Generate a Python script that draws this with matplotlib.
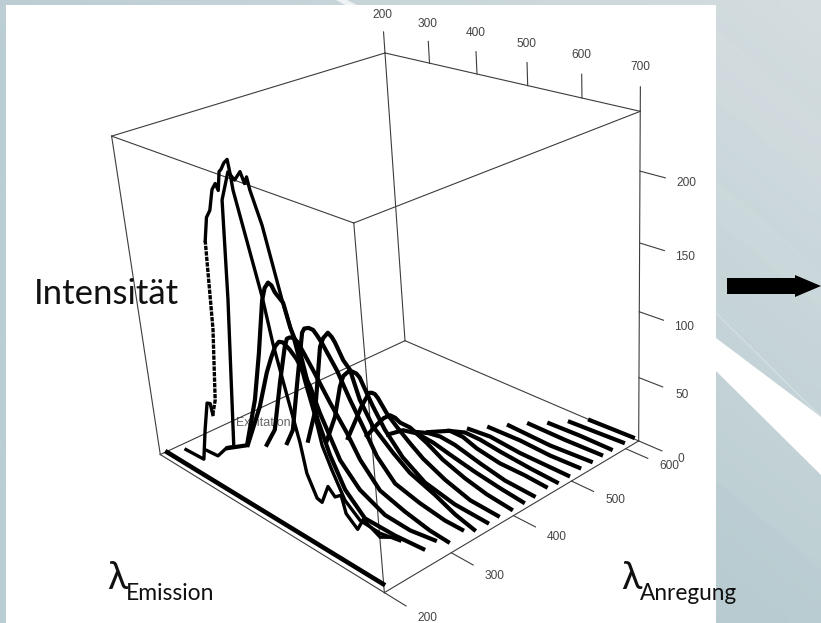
import numpy as np
import matplotlib
matplotlib.use('Agg')
import matplotlib.pyplot as plt
from mpl_toolkits.mplot3d import proj3d

W, H = 821, 623

# excitation wavelength of every scan
excitation = [200, 220, 240, 260, 280, 300, 320, 340, 360, 380, 400,
              420, 440, 460, 480, 500, 520, 540, 560, 580, 600, 620]

# emission wavelength / intensity
em_200 = [221, 699]
in_200 = [6, 6]
em_220 = [236, 282, 296, 311, 319, 322, 333, 351, 360, 370, 380, 391, 400, 405, 412, 417, 425, 433, 436, 438, 475, 487,
          507, 523, 531, 548, 558, 574, 587, 600, 607, 628, 641, 657, 672, 695]
in_220 = [6, 7, 33, 57, 58, 50, 63, 119, 183, 200, 206, 221, 226, 222, 235, 237, 242, 245, 236, 226, 160, 130,
          94, 66, 45, 30, 29, 44, 39, 43, 31, 24, 34, 31, 28, 33]
em_240 = [256, 284, 311, 329, 361, 376, 397, 410, 424, 431, 437, 441, 459, 485, 499, 516, 530, 539, 555, 577, 605, 644, 682]
in_240 = [4, 5, 17, 21, 138, 209, 230, 226, 233, 226, 231, 223, 202, 155, 135, 103, 81, 62, 47, 29, 20, 19, 22]
em_260 = [277, 328, 362, 385, 407, 416, 425, 432, 438, 454, 464, 480, 489, 504, 523, 549, 586, 645, 699]
in_260 = [5, 17, 59, 98, 140, 150, 155, 154, 150, 145, 129, 114, 96, 69, 47, 26, 12, 12, 14]
em_280 = [295, 338, 365, 380, 392, 402, 411, 425, 439, 463, 479, 514, 551, 600, 649, 696]
in_280 = [6, 45, 76, 90, 100, 105, 106, 103, 98, 82, 65, 36, 21, 12, 11, 14]
em_300 = [310, 335, 361, 382, 389, 396, 405, 414, 442, 473, 504, 528, 565, 614, 661, 695]
in_300 = [4, 21, 63, 94, 101, 103, 104, 102, 86, 67, 50, 34, 18, 12, 8, 7]
em_320 = [329, 347, 373, 394, 400, 410, 420, 428, 437, 465, 488, 511, 536, 570, 618, 666, 698]
in_320 = [4, 18, 65, 102, 106, 108, 108, 105, 101, 85, 67, 51, 33, 19, 14, 11, 11]
em_340 = [350, 375, 401, 410, 422, 430, 436, 451, 464, 480, 504, 543, 575, 623, 661, 696]
in_340 = [5, 34, 88, 96, 102, 100, 97, 86, 81, 61, 45, 32, 23, 16, 9, 5]
em_360 = [365, 390, 408, 418, 427, 434, 441, 448, 455, 468, 479, 501, 535, 578, 636, 697]
in_360 = [3, 27, 54, 64, 68, 71, 71, 71, 69, 59, 51, 37, 22, 11, 6, 5]
em_380 = [386, 412, 426, 439, 445, 451, 457, 463, 480, 500, 526, 551, 594, 642, 694]
in_380 = [4, 26, 38, 47, 51, 52, 52, 50, 41, 34, 26, 19, 11, 5, 4]
em_400 = [402, 428, 444, 459, 470, 480, 501, 535, 566, 609, 651, 696]
in_400 = [4, 18, 26, 31, 31, 29, 29, 23, 16, 10, 6, 4]
em_420 = [423, 458, 488, 522, 556, 605, 653, 696]
in_420 = [4, 14, 17, 16, 13, 9, 6, 4]
em_440 = [453, 486, 512, 542, 592, 640, 694]
in_440 = [7, 12, 14, 13, 8, 4, 3]
em_460 = [460, 508, 535, 563, 608, 656, 695]
in_460 = [3, 13, 13, 9, 6, 6, 5]
em_480 = [481, 515, 546, 586, 644, 694]
in_480 = [3, 8, 8, 6, 4, 3]
em_500 = [499, 543, 603, 651, 694]
in_500 = [3, 5, 3, 3, 3]
em_520 = [518, 581, 639, 694]
in_520 = [3, 4, 3, 4]
em_540 = [536, 618, 695]
in_540 = [3, 2, 4]
em_560 = [555, 626, 694]
in_560 = [3, 3, 4]
em_580 = [574, 634, 692]
in_580 = [2, 3, 3]
em_600 = [594, 646, 695]
in_600 = [2, 3, 4]
em_620 = [613, 694]
in_620 = [2, 3]

emission = [em_200, em_220, em_240, em_260, em_280, em_300, em_320, em_340, em_360, em_380, em_400,
            em_420, em_440, em_460, em_480, em_500, em_520, em_540, em_560, em_580, em_600, em_620]
intensity = [in_200, in_220, in_240, in_260, in_280, in_300, in_320, in_340, in_360, in_380, in_400,
             in_420, in_440, in_460, in_480, in_500, in_520, in_540, in_560, in_580, in_600, in_620]

x_ticks = [200, 300, 400, 500, 600, 700]
y_ticks = [200, 300, 400, 500, 600]
z_ticks = [0, 50, 100, 150, 200]

XL = (200, 700)
YL = (200, 625)
ZL = (0, 240)

fig = plt.figure(figsize=(W/100, H/100), dpi=100)

# background slide, in pixels
bg = fig.add_axes([0, 0, 1, 1])
yy, xx = np.mgrid[0:1:64j, 0:1:64j]
base = np.array([186, 205, 210])/255
light = np.array([212, 221, 224])/255
t = np.clip(xx*0.9 - yy*0.9 + 0.1, 0, 1)[..., None]
bg.imshow(base + (light-base)*t, extent=(0, W, H, 0), aspect='auto', interpolation='bilinear')
bg.fill([716, 821, 821, 716], [180, 270, 310, 220], color='white', alpha=0.05, lw=0)
bg.fill([716, 821, 821, 716], [30, 120, 190, 100], color='white', alpha=0.05, lw=0)
bg.fill([716, 821, 821, 716], [480, 570, 623, 623], color='#a9c1c7', alpha=0.12, lw=0)
bg.plot([716, 821], [313, 417], color='#dbe5e7', lw=0.6)
bg.fill([716, 821, 821, 716], [338, 417, 475, 371], color='white', lw=0)
bg.fill([336, 347, 357, 345], [0, 0, 5, 5], color='#eef2f3', lw=0)
bg.fill([6, 716, 716, 6], [5, 5, H, H], color='white', lw=0)
bg.fill([727, 795, 795, 821, 795, 795, 727], [278, 278, 275, 286, 297, 294, 294], color='black', lw=0)
bg.text(263, 423, 'Excitation', family='Liberation Sans', fontsize=9, color='#666666', ha='center', va='center')
bg.set_xlim(0, W)
bg.set_ylim(H, 0)
bg.axis('off')

# the 3D box
S = 900
ax = fig.add_axes([-77.45/W, -133.22/H, S/W, S/H], projection='3d', proj_type='persp', focal_length=0.2994)
ax.set_xlim(*XL)
ax.set_ylim(*YL)
ax.set_zlim(*ZL)
ax.view_init(24.4460, -40.1015, 4.2849)
ax.set_box_aspect((1.2047, 1.1924, 1.1964), zoom=0.6657)
ax.set_axis_off()
ax.patch.set_visible(False)
ax.computed_zorder = False
M = ax.get_proj()

edge = dict(color='#3c3c3c', lw=0.8, zorder=1)
for a in XL:
    for b in YL:
        ax.plot([a, a], [b, b], ZL, **edge)
for a in XL:
    for c in ZL:
        ax.plot([a, a], YL, [c, c], **edge)
for b in YL:
    for c in ZL:
        ax.plot(XL, [b, b], [c, c], **edge)

label = dict(family='Liberation Sans', fontsize=8.6, color='#444444', ha='center', va='center',
             zorder=4, transform=ax.transData)

def tick_label(x, y, z, s):
    # flat text placed at the projected point of the box
    u, v, _ = proj3d.proj_transform(x, y, z, M)
    ax.text2D(u, v, s, **label)

for v in x_ticks:
    ax.plot([v, v], [YL[1], YL[1]], [ZL[1], ZL[1]+16], **edge)
    tick_label(v, YL[1], ZL[1]+29, str(v))
for v in y_ticks:
    ax.plot([XL[1], XL[1]+40], [v, v], [0, 0], **edge)
    tick_label(XL[1]+78, v, 1, str(v))
for v in z_ticks:
    ax.plot([XL[1], XL[1]+42], [YL[1], YL[1]], [v, v], **edge)
    tick_label(XL[1]+76, YL[1], v, str(v))

# the scans; the steep flank of the first ones came out as separate points
for y, xs, zs in zip(excitation, emission, intensity):
    width = 3.3 if y == 200 else (2.4 if y in (220, 240) else 3.0)
    ys = [y]*len(xs)
    if y == 220:
        ax.plot(xs[:6], ys[:6], zs[:6], color='black', lw=width, zorder=3)
        ax.plot(xs[5:9], ys[5:9], zs[5:9], color='black', lw=width, zorder=3, ls=(0, (1.3, 0.35)))
        ax.plot(xs[8:], ys[8:], zs[8:], color='black', lw=width, zorder=3)
    else:
        ax.plot(xs, ys, zs, color='black', lw=width, zorder=3, solid_joinstyle='round')

# slide annotations
fs = ['Lato', 'DejaVu Sans']
fig.text(34/W, 1-304/H, 'Intensität', family=fs, fontsize=25, color='#111111', va='baseline')
fig.text(107/W, 1-589/H, 'λ', family=fs, fontsize=27, color='#111111', va='baseline')
fig.text(126/W, 1-600/H, 'Emission', family=fs, fontsize=16.5, color='#111111', va='baseline')
fig.text(621/W, 1-589/H, 'λ', family=fs, fontsize=27, color='#111111', va='baseline')
fig.text(640/W, 1-600/H, 'Anregung', family=fs, fontsize=16.3, color='#111111', va='baseline')

fig.savefig('out.png', dpi=100)
